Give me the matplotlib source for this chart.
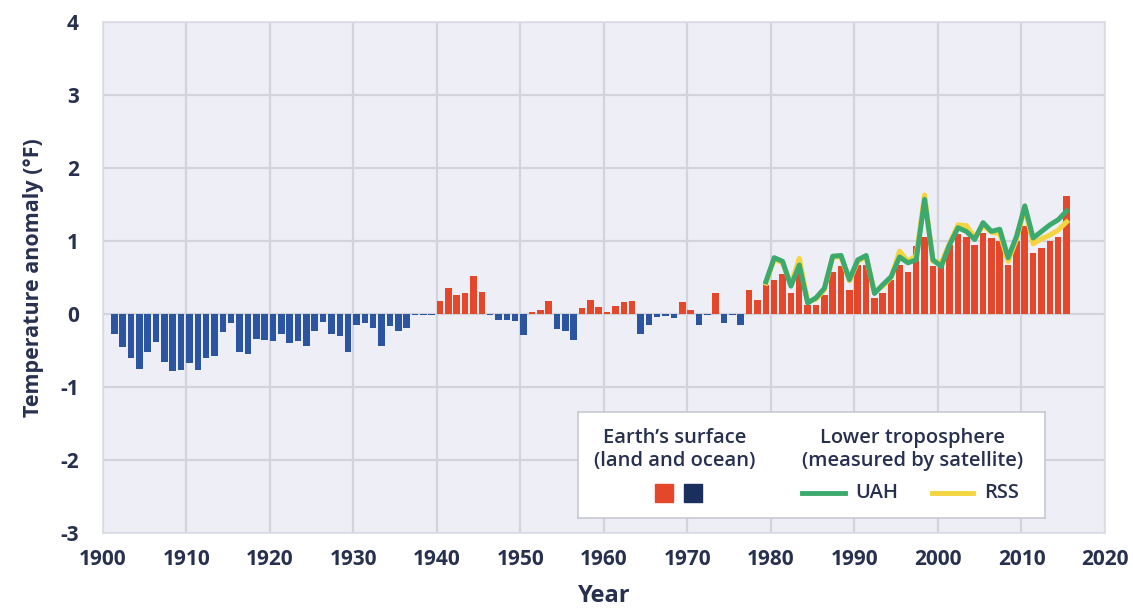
import numpy as np
import matplotlib
matplotlib.use("Agg")
import matplotlib.pyplot as plt
from matplotlib.patches import Rectangle

# Earth's surface temperature anomaly (deg F), 1901-2015
years = np.arange(1901, 2016)
surface = [
    -0.27, -0.45, -0.61, -0.76, -0.52, -0.38, -0.66, -0.79, -0.77, -0.67,   # 1901-1910
    -0.77, -0.60, -0.58, -0.25, -0.12, -0.52, -0.55, -0.35, -0.36, -0.37,   # 1911-1920
    -0.27, -0.40, -0.37, -0.44, -0.24, -0.11, -0.27, -0.30, -0.52, -0.15,   # 1921-1930
    -0.12, -0.20, -0.44, -0.17, -0.23, -0.20, -0.01, -0.02, -0.01, 0.17,    # 1931-1940
    0.35, 0.26, 0.28, 0.52, 0.30, -0.01, -0.08, -0.08, -0.10, -0.29,       # 1941-1950
    0.02, 0.05, 0.17, -0.21, -0.23, -0.36, 0.08, 0.19, 0.10, 0.03,         # 1951-1960
    0.11, 0.16, 0.17, -0.28, -0.15, -0.04, -0.03, -0.06, 0.16, 0.05,       # 1961-1970
    -0.15, -0.02, 0.29, -0.12, -0.02, -0.15, 0.33, 0.19, 0.39, 0.47,       # 1971-1980
    0.54, 0.28, 0.67, 0.12, 0.12, 0.26, 0.58, 0.65, 0.33, 0.67,            # 1981-1990
    0.67, 0.22, 0.28, 0.47, 0.67, 0.58, 0.93, 1.06, 0.65, 0.65,            # 1991-2000
    0.95, 1.09, 1.06, 0.95, 1.11, 1.04, 1.00, 0.67, 1.00, 1.20,            # 2001-2010
    0.83, 0.90, 1.00, 1.06, 1.61,                                          # 2011-2015
]

# Lower troposphere (satellite), 1979-2015
sat_years = np.arange(1979, 2016)
uah = [
    0.44, 0.77, 0.72, 0.38, 0.67, 0.15, 0.22, 0.35, 0.79, 0.80,
    0.47, 0.74, 0.80, 0.28, 0.40, 0.51, 0.78, 0.70, 0.74, 1.57,
    0.74, 0.65, 0.95, 1.18, 1.13, 1.02, 1.25, 1.13, 1.16, 0.77,
    1.06, 1.48, 1.04, 1.13, 1.22, 1.29, 1.41,
]
rss = [
    0.42, 0.75, 0.70, 0.40, 0.76, 0.17, 0.20, 0.33, 0.78, 0.78,
    0.45, 0.72, 0.78, 0.30, 0.38, 0.50, 0.86, 0.72, 0.80, 1.63,
    0.72, 0.70, 0.97, 1.22, 1.21, 1.05, 1.21, 1.12, 1.10, 0.72,
    1.02, 1.45, 0.96, 1.03, 1.08, 1.15, 1.26,
]

x_ticks = np.arange(1900, 2021, 10)
y_ticks = np.arange(-3, 5, 1)

RED = "#E5472B"
BLUE = "#2B55A0"
NAVY = "#1B2F5E"
GREEN = "#3DAA6D"
YELLOW = "#F5D53F"
TEXT = "#27314F"
FONT = "Open Sans"

plt.rcParams["font.family"] = [FONT, "DejaVu Sans"]
plt.rcParams["axes.unicode_minus"] = False

fig = plt.figure(figsize=(11.33, 6.13), dpi=100)
ax = fig.add_axes([0.0906, 0.131, 0.8847, 0.833])
ax.set_facecolor("#EEEEF6")

surface = np.array(surface)
colors = [RED if v >= 0 else BLUE for v in surface]
ax.bar(years, surface, width=0.78, align="edge", color=colors, edgecolor="none", zorder=2)

ax.plot(sat_years + 0.4, rss, color=YELLOW, lw=3.6, zorder=3, solid_joinstyle="round")
ax.plot(sat_years + 0.4, uah, color=GREEN, lw=3.6, zorder=4, solid_joinstyle="round")

ax.set_xlim(1900, 2020)
ax.set_ylim(-3, 4)
ax.set_xticks(x_ticks)
ax.set_yticks(y_ticks)
ax.grid(True, color="#D3D3DC", lw=1.6, zorder=0)
ax.set_axisbelow(True)
for s in ax.spines.values():
    s.set_color("#DCDCE4")
    s.set_linewidth(1.2)
ax.tick_params(length=0, labelsize=15, labelcolor=TEXT, pad=12)
ax.tick_params(axis="y", pad=17)
for lab in ax.get_xticklabels() + ax.get_yticklabels():
    lab.set_fontweight("bold")
ax.set_ylabel("Temperature anomaly (°F)", fontsize=15.5, fontweight="bold", color=TEXT, labelpad=12)
ax.set_xlabel("Year", fontsize=17, fontweight="bold", color=TEXT, labelpad=10)

# legend box, drawn in its own pixel-like coordinates
lg = fig.add_axes([0.5101, 0.155, 0.4122, 0.173])
lg.set_xlim(0, 467)
lg.set_ylim(106, 0)
lg.set_facecolor("white")
lg.set_xticks([])
lg.set_yticks([])
for s in lg.spines.values():
    s.set_color("#C8C8D2")
    s.set_linewidth(1.2)
lg.set_zorder(5)

tkw = dict(ha="center", va="center", fontsize=14.5, color=TEXT, fontweight="semibold")
lg.text(97, 26, "Earth\u2019s surface", **tkw)
lg.text(97, 49, "(land and ocean)", **tkw)
lg.text(335, 26, "Lower troposphere", **tkw)
lg.text(335, 49, "(measured by satellite)", **tkw)
lg.add_patch(Rectangle((77, 72), 18, 18, color=RED))
lg.add_patch(Rectangle((106, 72), 18, 18, color=NAVY))
lg.plot([224, 267], [81, 81], color=GREEN, lw=3.5)
lg.text(277, 81, "UAH", ha="left", va="center", fontsize=14.5, color=TEXT, fontweight="semibold")
lg.plot([354, 395], [81, 81], color=YELLOW, lw=3.5)
lg.text(406, 81, "RSS", ha="left", va="center", fontsize=14.5, color=TEXT, fontweight="semibold")

fig.savefig("out.png", dpi=100, facecolor="white")
